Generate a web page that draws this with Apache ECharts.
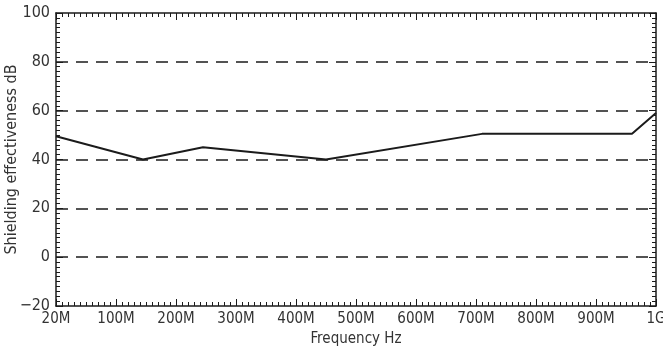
<!DOCTYPE html>
<html>
<head>
<meta charset="utf-8">
<script src="https://cdn.jsdelivr.net/npm/echarts@6/dist/echarts.min.js"></script>
<style>
  html, body { margin: 0; padding: 0; background: #fff; }
  #main { width: 663px; height: 350px; }
</style>
</head>
<body>
<div id="main"></div>
<script>
// frequency points in MHz and shielding effectiveness in dB
const freqMHz = [20, 145, 245, 450, 710, 960, 1000];
const shieldingDb = [49.5, 40, 45, 40, 50.5, 50.5, 59];
const xTickLabels = ["20M", "100M", "200M", "300M", "400M", "500M", "600M", "700M", "800M", "900M", "1G"];
const yTicks = [-20, 0, 20, 40, 60, 80, 100];

// the left edge of the axis is labelled 20M, the rest are every 100M
const toAxis = (f) => (f <= 100 ? (f - 20) * 100 / 80 : f);

const font = "'Liberation Sans Narrow', 'DejaVu Sans Condensed', 'Liberation Sans', Arial, sans-serif";
const ink = "#1b1b1b";

var chart = echarts.init(document.getElementById("main"));

const tickStyle = {
  axisLine: { show: true, onZero: false, lineStyle: { color: ink, width: 1.5 } },
  axisTick: { show: true, inside: true, length: 7, lineStyle: { color: ink, width: 1 } },
  minorTick: { show: true, splitNumber: 10, length: 4, lineStyle: { color: ink, width: 1 } },
};

const option = {
  animation: false,
  grid: { left: 56, right: 7, top: 13, bottom: 44, containLabel: false, outerBoundsMode: "none" },
  xAxis: [
    {
      type: "value",
      min: 0,
      max: 1000,
      interval: 100,
      ...tickStyle,
      splitLine: { show: false },
      axisLabel: {
        color: "#333",
        fontFamily: font,
        fontSize: 15,
        margin: 6,
        formatter: (v) => xTickLabels[Math.round(v / 100)],
      },
      name: "Frequency Hz",
      nameLocation: "middle",
      nameGap: 26,
      nameMoveOverlap: false,
      nameTextStyle: { color: "#333", fontFamily: font, fontSize: 15 },
    },
    {
      type: "value",
      position: "top",
      min: 0,
      max: 1000,
      interval: 100,
      ...tickStyle,
      splitLine: { show: false },
      axisLabel: { show: false },
    },
  ],
  yAxis: [
    {
      type: "value",
      min: yTicks[0],
      max: yTicks[yTicks.length - 1],
      interval: 20,
      ...tickStyle,
      axisLabel: {
        color: "#333",
        fontFamily: font,
        fontSize: 16,
        margin: 6,
        formatter: (v) => (v < 0 ? "\u2212" + Math.abs(v) : String(v)),
      },
      splitLine: {
        show: true,
        showMinLine: false,
        showMaxLine: false,
        lineStyle: { color: ink, width: 1.5, type: [12, 8] },
      },
      name: "Shielding effectiveness dB",
      nameLocation: "middle",
      nameGap: 36,
      nameMoveOverlap: false,
      nameTextStyle: { color: "#333", fontFamily: font, fontSize: 16 },
    },
    {
      type: "value",
      position: "right",
      min: yTicks[0],
      max: yTicks[yTicks.length - 1],
      interval: 20,
      ...tickStyle,
      axisLabel: { show: false },
      splitLine: { show: false },
    },
  ],
  series: [
    {
      type: "line",
      data: freqMHz.map((f, i) => [toAxis(f), shieldingDb[i]]),
      showSymbol: false,
      lineStyle: { color: ink, width: 2 },
      z: 5,
    },
  ],
};

chart.setOption(option);
</script>
</body>
</html>
